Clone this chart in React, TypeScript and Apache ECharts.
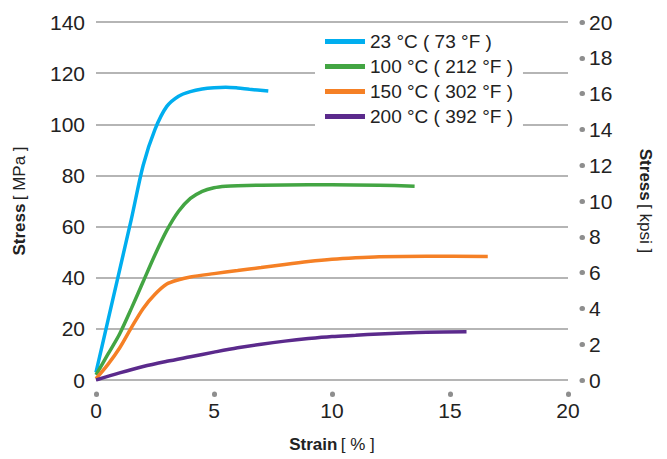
import React, { useEffect, useRef } from "react";
import * as echarts from "echarts";

const seriesNames = ["23 °C ( 73 °F )", "100 °C ( 212 °F )", "150 °C ( 302 °F )", "200 °C ( 392 °F )"];
const seriesColors = ["#00AEEF", "#43A543", "#F58025", "#5B2A8C"];

const strain23 = [0, 0.5, 1, 1.5, 2, 2.5, 3, 3.5, 4, 4.5, 5, 5.5, 6, 6.5, 7.3];
const stress23 = [3, 23, 43, 63, 84, 98, 107, 111, 112.8, 113.8, 114.3, 114.5, 114.2, 113.7, 113];

const strain100 = [0, 0.5, 1, 1.5, 2, 2.5, 3, 3.5, 4, 4.5, 5, 5.5, 6, 8, 10, 12, 13.5];
const stress100 = [2, 10, 18, 28, 38.5, 49, 58.5, 66, 71, 73.8, 75.2, 75.8, 76, 76.3, 76.4, 76.2, 75.8];

const strain150 = [0, 0.5, 1, 1.5, 2, 2.5, 3, 3.5, 4, 5, 6, 7, 8, 9, 10, 11, 12, 14, 16.6];
const stress150 = [0.5, 6, 12.5, 20.5, 28, 33.5, 37.5, 39.2, 40.3, 41.6, 42.8, 44, 45.2, 46.3, 47.2, 47.8, 48.2, 48.4, 48.3];

const strain200 = [0, 1, 2, 3, 4, 5, 6, 7, 8, 9, 10, 11, 12, 13, 14, 15.7];
const stress200 = [0, 2.8, 5.3, 7.3, 9.1, 10.9, 12.6, 14, 15.2, 16.2, 17, 17.5, 18, 18.4, 18.7, 18.9];

const xTicks = [0, 5, 10, 15, 20];
const leftTicks = [0, 20, 40, 60, 80, 100, 120, 140];
const rightTicks = [0, 2, 4, 6, 8, 10, 12, 14, 16, 18, 20];

const FONT = "'Liberation Sans', Helvetica, Arial, sans-serif";
const TEXT = "#222";
const DOT = "#8e8e8e";

function pairs(xs: number[], ys: number[]) {
  return xs.map((x, i) => [x, ys[i]]);
}

const nameRich = {
  b: { fontSize: 17, fontWeight: "bold", color: TEXT, fontFamily: FONT },
  n: { fontSize: 17, color: TEXT, fontFamily: FONT },
};

export default function App() {
  const ref = useRef<HTMLDivElement>(null);
  useEffect(() => {
    if (!ref.current) return;
    const chart = echarts.init(ref.current, null, { renderer: "svg" });
    const all = [
      pairs(strain23, stress23),
      pairs(strain100, stress100),
      pairs(strain150, stress150),
      pairs(strain200, stress200),
    ];
    chart.setOption({
      animation: false,
      backgroundColor: "#fff",
      textStyle: { fontFamily: FONT },
      grid: { left: 96, right: 99, top: 22, bottom: 79, containLabel: false, outerBoundsMode: "none" },
      legend: {
        orient: "vertical",
        left: 315,
        top: 30,
        icon: "rect",
        itemWidth: 40,
        itemHeight: 5,
        itemGap: 6,
        padding: [2, 10, 2, 10],
        backgroundColor: "#fff",
        textStyle: { fontFamily: FONT, fontSize: 19, color: TEXT },
        data: seriesNames,
      },
      xAxis: {
        type: "value",
        min: xTicks[0],
        max: xTicks[xTicks.length - 1],
        interval: 5,
        offset: 14,
        axisLine: { show: false, onZero: false },
        axisTick: { show: true, length: 0.5, lineStyle: { color: DOT, width: 5, cap: "round" } },
        splitLine: { show: false },
        axisLabel: { margin: 6, fontSize: 21, color: TEXT, fontFamily: FONT },
        name: "{b|Strain} {n|[ % ]}",
        nameLocation: "middle",
        nameGap: 50,
        nameMoveOverlap: false,
        nameTextStyle: { rich: nameRich, verticalAlign: "middle" },
      },
      yAxis: [
        {
          type: "value",
          min: leftTicks[0],
          max: leftTicks[leftTicks.length - 1],
          interval: 20,
          position: "left",
          axisLine: { show: false, onZero: false },
          axisTick: { show: false },
          splitLine: { show: true, lineStyle: { color: "#9c9c9c", width: 1.5 } },
          axisLabel: { margin: 11, fontSize: 21, color: TEXT, fontFamily: FONT },
          name: "{b|Stress} {n|[ MPa ]}",
          nameLocation: "middle",
          nameGap: 68,
          nameTextStyle: { rich: nameRich },
        },
        {
          type: "value",
          min: rightTicks[0],
          max: rightTicks[rightTicks.length - 1],
          interval: 2,
          position: "right",
          offset: 14,
          axisLine: { show: false, onZero: false },
          axisTick: { show: true, length: 0.5, lineStyle: { color: DOT, width: 5, cap: "round" } },
          splitLine: { show: false },
          axisLabel: { margin: 7, fontSize: 21, color: TEXT, fontFamily: FONT },
          name: "{b|Stress} {n|[ kpsi ]}",
          nameLocation: "middle",
          nameRotate: -90,
          nameGap: 55,
          nameTextStyle: { rich: nameRich },
        },
      ],
      series: seriesNames.map((name, i) => ({
        name,
        type: "line",
        yAxisIndex: 0,
        data: all[i],
        smooth: 0.3,
        symbol: "none",
        lineStyle: { color: seriesColors[i], width: 3.5 },
        itemStyle: { color: seriesColors[i] },
        z: 2,
      })),
    });
    return () => chart.dispose();
  }, []);
  return (
    <div
      ref={ref}
      style={{ position: "fixed", left: 0, top: 0, width: 667, height: 459 }}
    />
  );
}
